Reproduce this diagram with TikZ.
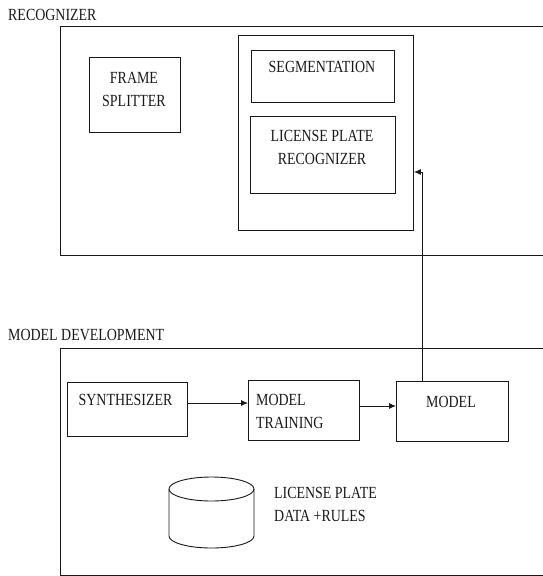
\documentclass[tikz,border=0pt]{standalone}
\usepackage{fontspec}
\setmainfont{Liberation Serif}[FakeStretch=0.82]
\usetikzlibrary{shapes.geometric,arrows.meta}
\tikzset{
  box/.style={draw=black!90, line width=0.9pt, rectangle, inner sep=0pt, anchor=north west},
  txt/.style={font=\fontsize{17}{23}\selectfont, inner sep=0pt, align=center, text=black!90},
  ltxt/.style={txt, align=left, anchor=west},
  arr/.style={draw=black!90, line width=0.9pt, -{Latex[length=7pt,width=6pt]}},
  cyl/.style={draw=black!90, line width=0.9pt}
}
\begin{document}
\begin{tikzpicture}[x=1pt,y=-1pt]
\useasboundingbox (0,0) rectangle (543,576);
\clip (0,0) rectangle (543,576);
% outer containers
\node[box, minimum width=600pt, minimum height=229pt] (rec) at (60,26) {};
\node[box, minimum width=600pt, minimum height=227pt] (dev) at (60,348) {};
\node[ltxt] (reclab) at (8,15) {RECOGNIZER};
\node[ltxt] (devlab) at (8,335) {MODEL DEVELOPMENT};
% recognizer
\node[box, minimum width=91pt, minimum height=75pt] (frame) at (89,57) {};
\node[txt] (frametxt) at (134,89) {FRAME\\SPLITTER};
\node[box, minimum width=175pt, minimum height=195pt] (cont) at (238,35) {};
\node[box, minimum width=143pt, minimum height=52pt] (seg) at (251,50) {};
\node[txt] (segtxt) at (322,67) {SEGMENTATION};
\node[box, minimum width=145pt, minimum height=77pt] (lpr) at (250,116) {};
\node[txt] (lprtxt) at (322,147) {LICENSE PLATE\\RECOGNIZER};
% model development
\node[box, minimum width=120pt, minimum height=54pt] (synth) at (67,382) {};
\node[txt] (synthtxt) at (125.5,400) {SYNTHESIZER};
\node[box, minimum width=111pt, minimum height=60pt] (train) at (248,380) {};
\node[ltxt] (traintxt) at (256,411) {MODEL\\TRAINING};
\node[box, minimum width=112pt, minimum height=60pt] (model) at (396,381) {};
\node[txt] (modeltxt) at (451,402) {MODEL};
% database cylinder
\coordinate (db) at (211.5,512.5);
\draw[cyl] (211.5,489) ellipse [x radius=42.5, y radius=12];
\draw[cyl] (169,489) -- (169,536) arc [start angle=180, end angle=0, x radius=42.5, y radius=12] -- (254,489);
\node[ltxt] (dbtxt) at (274,504.5) {LICENSE PLATE\\DATA +RULES};
% connectors
\draw[arr] (synth.east |- 0,403) -- (train.west |- 0,403);
\draw[arr] (train.east |- 0,406) -- (model.west |- 0,406);
\draw[arr] (model.north -| 422,0) |- (cont.east |- 0,172);
\end{tikzpicture}
\end{document}
